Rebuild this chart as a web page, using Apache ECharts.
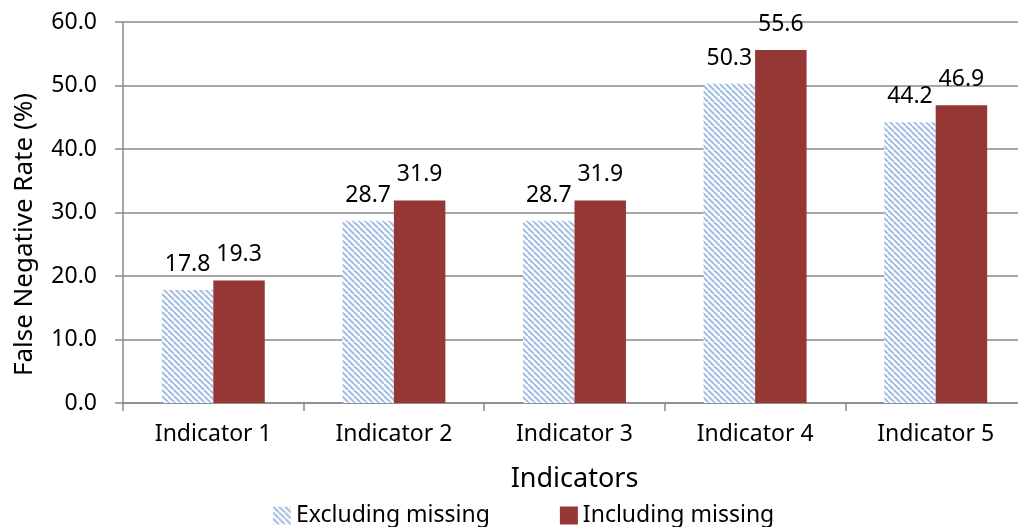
<!DOCTYPE html>
<html>
<head>
<meta charset="utf-8">
<script src="https://cdn.jsdelivr.net/npm/echarts@6/dist/echarts.min.js"></script>
<style>
html,body{margin:0;padding:0;background:#fff;}
#chart{width:1018px;height:527px;}
</style>
</head>
<body>
<div id="chart"></div>
<script>
const categories = ['Indicator 1','Indicator 2','Indicator 3','Indicator 4','Indicator 5'];
const excludingMissing = [17.8, 28.7, 28.7, 50.3, 44.2];
const includingMissing = [19.3, 31.9, 31.9, 55.6, 46.9];
const seriesNames = ['Excluding missing','Including missing'];
const yTicks = {min: 0, max: 60, interval: 10};

function makeHatch() {
  const s = 6;
  const c = document.createElement('canvas');
  c.width = s; c.height = s;
  const ctx = c.getContext('2d');
  ctx.fillStyle = '#ffffff';
  ctx.fillRect(0,0,s,s);
  ctx.strokeStyle = '#A3BFE4';
  ctx.lineWidth = 2.1;
  for (const o of [-s, 0, s]) {
    ctx.beginPath();
    ctx.moveTo(o, 0);
    ctx.lineTo(o + s, s);
    ctx.stroke();
  }
  return c;
}

const FONT = '"Noto Sans", sans-serif';
const chart = echarts.init(document.getElementById('chart'));
const gray = '#898989';
chart.setOption({
  animation: false,
  textStyle: {fontFamily: FONT},
  grid: {left: 123, top: 22, height: 381, width: 903, containLabel: false, outerBoundsMode: 'none'},
  legend: {
    left: 268, top: 499,
    itemWidth: 18, itemHeight: 18, itemGap: 70,
    textStyle: {fontSize: 23, color: '#000', fontFamily: FONT},
    data: [{name: seriesNames[0], icon: 'rect'}, {name: seriesNames[1], icon: 'rect'}]
  },
  xAxis: {
    type: 'category',
    data: categories,
    name: 'Indicators',
    nameLocation: 'middle',
    nameGap: 63,
    nameTextStyle: {fontSize: 27, color: '#000', fontFamily: FONT},
    axisLine: {lineStyle: {color: gray, width: 1.5}},
    axisTick: {show: true, length: 8, lineStyle: {color: gray, width: 1.5}},
    axisLabel: {fontSize: 23, color: '#000', margin: 20, fontFamily: FONT}
  },
  yAxis: {
    type: 'value',
    min: yTicks.min, max: yTicks.max, interval: yTicks.interval,
    name: 'False Negative Rate (%)',
    nameLocation: 'middle',
    nameGap: 85,
    nameTextStyle: {fontSize: 26, color: '#000', fontFamily: FONT, padding: [0, 44, 0, 0]},
    axisLine: {show: true, lineStyle: {color: gray, width: 1.5}},
    axisTick: {show: true, length: 8, lineStyle: {color: gray, width: 1.5}},
    axisLabel: {fontSize: 23, color: '#000', margin: 26, fontFamily: FONT,
      formatter: v => v.toFixed(1)},
    splitLine: {show: true, lineStyle: {color: gray, width: 1.5}}
  },
  series: [
    {
      name: seriesNames[0], type: 'bar', data: excludingMissing,
      barGap: '0%', barCategoryGap: '43%',
      itemStyle: {color: {image: makeHatch(), repeat: 'repeat'}},
      label: {show: true, position: 'top', distance: 14, fontSize: 23, color: '#000',
        fontFamily: FONT, formatter: p => p.value.toFixed(1)}
    },
    {
      name: seriesNames[1], type: 'bar', data: includingMissing,
      barGap: '0%', barCategoryGap: '43%',
      itemStyle: {color: '#953735'},
      label: {show: true, position: 'top', distance: 14, fontSize: 23, color: '#000',
        fontFamily: FONT, formatter: p => p.value.toFixed(1)}
    }
  ]
});
</script>
</body>
</html>
